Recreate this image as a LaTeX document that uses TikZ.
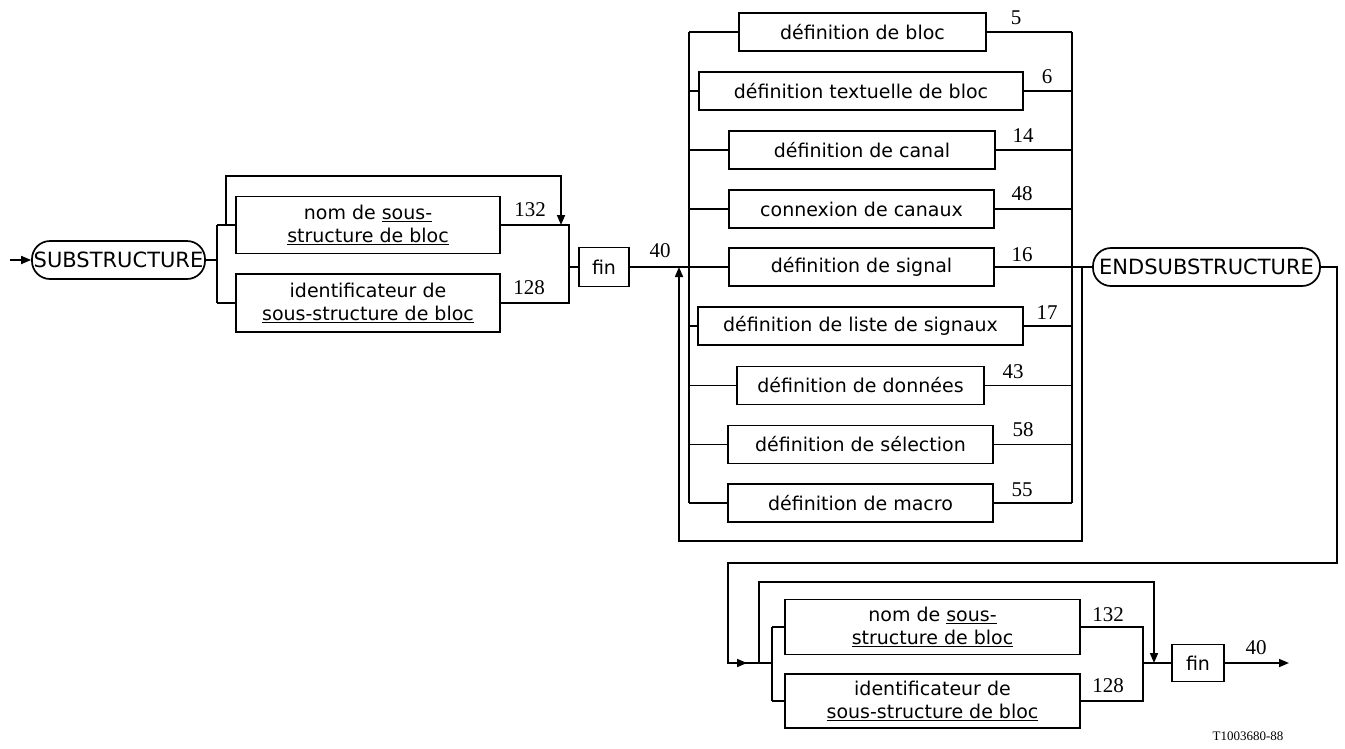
\documentclass[tikz,border=0pt]{standalone}
\usepackage{fontspec}
\setmainfont{DejaVu Sans}
\newfontfamily\numfont{Liberation Serif}
\usetikzlibrary{arrows.meta}
\begin{document}
\begin{tikzpicture}[x=1pt,y=-1pt, line width=1.7pt,
  box/.style={draw, rectangle, inner sep=0pt, font=\fontsize{19}{23}\selectfont, align=center},
  kw/.style={draw, rounded corners=18pt, inner sep=0pt, minimum height=38pt, font=\fontsize{21}{24}\selectfont},
  num/.style={font=\numfont\fontsize{21}{24}\selectfont, inner sep=0pt},
  arr/.style={-{Triangle[length=10pt,width=8pt]}}]
\useasboundingbox (0,0) rectangle (1345,748);

% ---------- first part ----------
\node[kw, minimum width=173pt] (sub) at (118.5,260) {SUBSTRUCTURE};
\coordinate (in) at (10,260);
\draw[arr] (in) -- (sub.west);
\coordinate (b1) at (217,260);
\coordinate (b1u) at (217,225);
\coordinate (b1d) at (217,303);
\node[box, minimum width=264pt, minimum height=57pt] (nom1) at (368,225) {nom de \underline{sous-}\\\underline{structure de bloc}};
\node[box, minimum width=264pt, minimum height=58pt] (id1) at (368,303) {identificateur de\\\underline{sous-structure de bloc}};
\draw (sub.east) -- (b1);
\draw (b1u) -- (b1d);
\draw (b1u) -- (nom1.west);
\draw (b1d) -- (id1.west);
\coordinate (m1u) at (569,225);
\coordinate (m1d) at (569,303);
\coordinate (m1) at (569,267);
\draw (nom1.east) -- (m1u) -- (m1d) -- (id1.east);
\coordinate (l1s) at (226,225);
\coordinate (l1a) at (226,176);
\coordinate (l1b) at (561,176);
\coordinate (l1e) at (561,225);
\draw[arr] (l1s) -- (l1a) -- (l1b) -- (l1e);
\node[box, minimum width=50pt, minimum height=39pt] (fin1) at (604,267) {fin};
\draw (m1) -- (fin1.west);
\node[num] (n132a) at (530,210) {132};
\node[num] (n128a) at (529,288) {128};
\node[num] (n40a) at (660,251) {40};

% ---------- alternatives ----------
\coordinate (j1) at (689,267);
\draw (fin1.east) -- (j1);
\coordinate (lt) at (689,32);
\coordinate (lb) at (689,503);
\coordinate (rt) at (1072,32);
\coordinate (rb) at (1072,503);
\draw (lt) -- (lb);
\draw (rt) -- (rb);
\foreach \id/\cx/\cy/\w/\txt/\nm/\lx/\ly in {
  a1/862.5/32/247/{définition de bloc}/5/1016/18,
  a2/861/91/324/{définition textuelle de bloc}/6/1047/77,
  a3/862/150/266/{définition de canal}/14/1023/136,
  a4/861.5/209/265/{connexion de canaux}/48/1022/194,
  a5/861.5/267/265/{définition de signal}/16/1022/255,
  a6/860.5/326/325/{définition de liste de signaux}/17/1047/313,
  a7/860.5/385.5/247/{définition de données}/43/1013/372,
  a8/860.5/444.5/265/{définition de sélection}/58/1023/430,
  a9/860.5/503/265/{définition de macro}/55/1022/490}{
  \node[box, minimum width=\w pt, minimum height=38pt] (\id) at (\cx,\cy) {\txt};
  \draw (\id.west) -- (\id.west -| lt);
  \draw (\id.east) -- (\id.east -| rt);
  \node[num] (l\id) at (\lx,\ly) {\nm};
}

\node[kw, minimum width=227pt] (end) at (1206.5,267) {ENDSUBSTRUCTURE};
\coordinate (ex) at (1072,267);
\draw (ex) -- (end.west);
\coordinate (rl) at (1082,267);
\coordinate (rl2) at (1082,541);
\coordinate (ll2) at (679,541);
\coordinate (ll) at (679,267);
\draw[arr] (rl) -- (rl2) -- (ll2) -- (ll);

% ---------- second part ----------
\coordinate (e1) at (1337,267);
\coordinate (e2) at (1337,563);
\coordinate (e3) at (728,563);
\coordinate (e4) at (728,663);
\coordinate (e5) at (747,663);
\coordinate (b2) at (772,663);
\draw (end.east) -- (e1) -- (e2) -- (e3) -- (e4) -- (b2);
\draw[arr] (e4) -- (e5);
\coordinate (b2u) at (772,627);
\coordinate (b2d) at (772,701);
\node[box, minimum width=295pt, minimum height=55pt] (nom2) at (932.5,627) {nom de \underline{sous-}\\\underline{structure de bloc}};
\node[box, minimum width=295pt, minimum height=54pt] (id2) at (932.5,701) {identificateur de\\\underline{sous-structure de bloc}};
\draw (b2u) -- (b2d);
\draw (b2u) -- (nom2.west);
\draw (b2d) -- (id2.west);
\coordinate (m2u) at (1143,627);
\coordinate (m2d) at (1143,701);
\coordinate (m2) at (1143,663);
\draw (nom2.east) -- (m2u) -- (m2d) -- (id2.east);
\coordinate (l2s) at (759,663);
\coordinate (l2a) at (759,582);
\coordinate (l2b) at (1154,582);
\coordinate (l2e) at (1154,663);
\draw[arr] (l2s) -- (l2a) -- (l2b) -- (l2e);
\node[box, minimum width=52pt, minimum height=37pt] (fin2) at (1198,663) {fin};
\draw (m2) -- (fin2.west);
\coordinate (out) at (1289,663);
\draw[arr] (fin2.east) -- (out);
\node[num] (n132b) at (1108,615) {132};
\node[num] (n128b) at (1108,686) {128};
\node[num] (n40b) at (1256,648) {40};
\node[font=\numfont\fontsize{13}{15}\selectfont, inner sep=0pt] (tn) at (1248,736) {T1003680-88};
\end{tikzpicture}
\end{document}
